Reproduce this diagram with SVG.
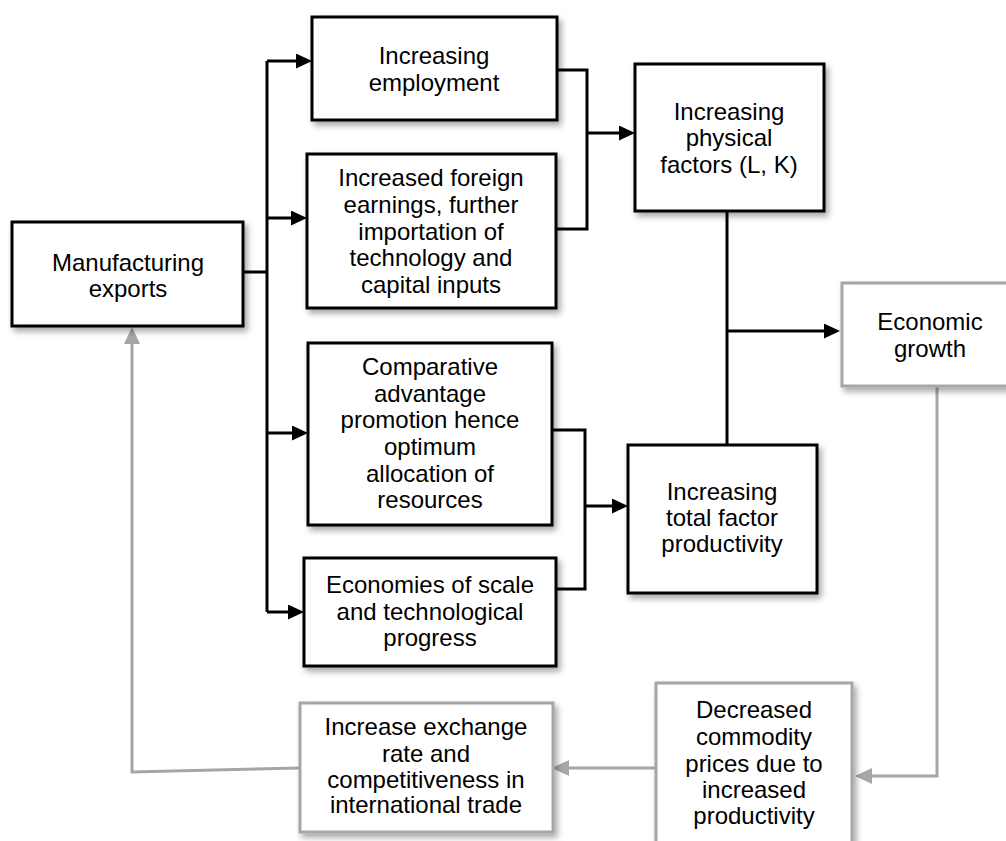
<svg xmlns="http://www.w3.org/2000/svg" width="1006" height="841" viewBox="0 0 1006 841">
<defs>
<filter id="sh" x="-10%" y="-10%" width="130%" height="130%">
<feDropShadow dx="3" dy="4" stdDeviation="3" flood-color="#000" flood-opacity="0.35"/>
</filter>
<marker id="ab" markerUnits="userSpaceOnUse" markerWidth="16" markerHeight="15" refX="10" refY="7.5" orient="auto">
<path d="M0,0 L16,7.5 L0,15 z" fill="#000"/>
</marker>
<marker id="ag" markerUnits="userSpaceOnUse" markerWidth="17" markerHeight="16" refX="11" refY="8" orient="auto">
<path d="M0,0 L17,8 L0,16 z" fill="#a6a6a6"/>
</marker>
</defs>
<style>
.b rect{fill:#fff;stroke:#000;stroke-width:3;filter:url(#sh)}
.g rect{fill:#fff;stroke:#a6a6a6;stroke-width:3;filter:url(#sh)}
text{font-family:"Liberation Sans",Arial,sans-serif;font-size:24px;fill:#000;text-anchor:middle}
.cb path{fill:none;stroke:#000;stroke-width:3}
.cg path{fill:none;stroke:#a6a6a6;stroke-width:3}
</style>
<rect width="1006" height="841" fill="#fff"/>
<g id="connectors">
<g class="cb">
<path d="M243,272 H267"/>
<path d="M267,61 V612"/>
<path d="M267,61 H306" marker-end="url(#ab)"/>
<path d="M267,218 H301" marker-end="url(#ab)"/>
<path d="M267,433 H302" marker-end="url(#ab)"/>
<path d="M267,612 H298" marker-end="url(#ab)"/>
<path d="M557,70 H587 V229 H556"/>
<path d="M587,133 H629" marker-end="url(#ab)"/>
<path d="M727,211 V445"/>
<path d="M727,331 H834" marker-end="url(#ab)"/>
<path d="M552,430 H585 V589 H556"/>
<path d="M585,506 H622" marker-end="url(#ab)"/>
</g>
<g class="cg">
<path d="M937,386 V776 H861" marker-end="url(#ag)"/>
<path d="M656,768 H558" marker-end="url(#ag)"/>
<path d="M300,768 L132,772 V333" marker-end="url(#ag)"/>
</g>
</g>
<g id="manufacturing" class="b">
<rect x="12" y="222" width="231" height="104"/>
<text x="128" y="271">Manufacturing</text>
<text x="128" y="297">exports</text>
</g>
<g id="employment" class="b">
<rect x="312" y="17" width="245" height="103"/>
<text x="434" y="64">Increasing</text>
<text x="434" y="91">employment</text>
</g>
<g id="foreign" class="b">
<rect x="307" y="154" width="249" height="154"/>
<text x="431" y="186">Increased foreign</text>
<text x="431" y="213">earnings, further</text>
<text x="431" y="240">importation of</text>
<text x="431" y="266">technology and</text>
<text x="431" y="293">capital inputs</text>
</g>
<g id="comparative" class="b">
<rect x="308" y="343" width="244" height="182"/>
<text x="430" y="375">Comparative</text>
<text x="430" y="402">advantage</text>
<text x="430" y="428">promotion hence</text>
<text x="430" y="455">optimum</text>
<text x="430" y="482">allocation of</text>
<text x="430" y="508">resources</text>
</g>
<g id="economies" class="b">
<rect x="304" y="558" width="252" height="108"/>
<text x="430" y="593">Economies of scale</text>
<text x="430" y="620">and technological</text>
<text x="430" y="646">progress</text>
</g>
<g id="physical" class="b">
<rect x="635" y="64" width="189" height="147"/>
<text x="729" y="120">Increasing</text>
<text x="729" y="146">physical</text>
<text x="729" y="173">factors (L, K)</text>
</g>
<g id="tfp" class="b">
<rect x="628" y="445" width="189" height="148"/>
<text x="722" y="500">Increasing</text>
<text x="722" y="526">total factor</text>
<text x="722" y="552">productivity</text>
</g>
<g id="growth" class="g">
<rect x="842" y="283" width="176" height="103"/>
<text x="930" y="330">Economic</text>
<text x="930" y="357">growth</text>
</g>
<g id="decreased" class="g">
<rect x="656" y="683" width="196" height="170"/>
<text x="754" y="718">Decreased</text>
<text x="754" y="745">commodity</text>
<text x="754" y="772">prices due to</text>
<text x="754" y="798">increased</text>
<text x="754" y="824">productivity</text>
</g>
<g id="exchange" class="g">
<rect x="300" y="703" width="253" height="129"/>
<text x="426" y="735">Increase exchange</text>
<text x="426" y="762">rate and</text>
<text x="426" y="788">competitiveness in</text>
<text x="426" y="813">international trade</text>
</g>
</svg>
